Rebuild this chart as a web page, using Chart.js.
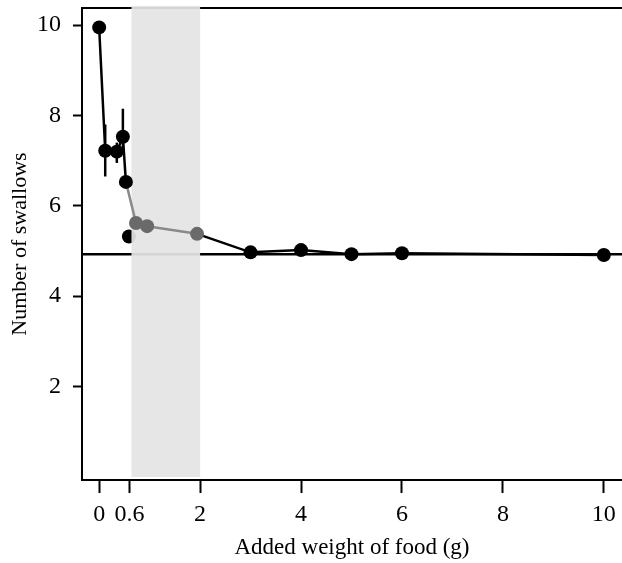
<!DOCTYPE html>
<html>
<head>
<meta charset="utf-8">
<script src="https://cdn.jsdelivr.net/npm/chart.js@4"></script>
<style>
  html, body { margin: 0; padding: 0; background: #fff; overflow: hidden; }
  #wrap { width: 622px; height: 563px; position: relative; }
  canvas { display: block; }
</style>
</head>
<body>
<div id="wrap"><canvas id="swallows"></canvas></div>
<script>
const weights  = [0, 0.12, 0.35, 0.47, 0.53, 0.73, 0.95, 1.94, 3, 4, 5, 6, 10];
const swallows = [9.95, 7.22, 7.2, 7.53, 6.53, 5.62, 5.55, 5.38, 4.97, 5.02, 4.93, 4.95, 4.91];
const errLow   = [null, 6.65, 6.95, 7.2, null, null, null, null, null, null, null, null, null];
const errHigh  = [null, 7.8, 7.4, 8.15, null, null, null, null, null, null, null, null, null];
const strayWeight = [0.59];
const strayCount  = [5.32];
const refLevel = 4.93;
const shadeRange = [0.64, 2.0];
const xTicks = [0, 0.6, 2, 4, 6, 8, 10];
const yTicks = [2, 4, 6, 8, 10];
const xMin = -0.34, xMax = 10.36;
const yMin = -0.07, yMax = 10.38;

const serif = 'Liberation Serif, Times New Roman, serif';
const inShade = x => x > shadeRange[0] && x < shadeRange[1];

const shadePlugin = {
  id: 'shade',
  beforeDatasetDraw(chart, args) {
    if (args.index !== 0) return;
    const { ctx, chartArea } = chart;
    const x = chart.scales.x;
    const x0 = x.getPixelForValue(shadeRange[0]);
    const x1 = x.getPixelForValue(shadeRange[1]);
    ctx.save();
    ctx.fillStyle = 'rgba(228,228,228,0.93)';
    ctx.fillRect(x0, chartArea.top - 2, x1 - x0, chartArea.bottom - chartArea.top - 1);
    ctx.restore();
  }
};

const errorBars = {
  id: 'errorBars',
  afterDatasetsDraw(chart) {
    const { ctx } = chart;
    const x = chart.scales.x, y = chart.scales.y;
    ctx.save();
    ctx.strokeStyle = '#000';
    ctx.lineWidth = 2.5;
    weights.forEach((w, i) => {
      if (errLow[i] == null) return;
      const px = x.getPixelForValue(w);
      ctx.beginPath();
      ctx.moveTo(px, y.getPixelForValue(errLow[i]));
      ctx.lineTo(px, y.getPixelForValue(errHigh[i]));
      ctx.stroke();
    });
    ctx.restore();
  }
};

const noPad = s => { s.paddingTop = 0; s.paddingBottom = 0; s.paddingLeft = 0; s.paddingRight = 0; };

new Chart(document.getElementById('swallows'), {
  type: 'scatter',
  data: {
    datasets: [
      {
        label: 'Number of swallows',
        data: weights.map((w, i) => ({ x: w, y: swallows[i] })),
        showLine: true,
        borderColor: '#000',
        borderWidth: 2.5,
        segment: {
          borderColor: c => inShade(c.p1.parsed.x) ? '#8a8a8a' : '#000'
        },
        pointRadius: 7,
        pointBorderWidth: 0,
        pointBackgroundColor: c => inShade(c.raw.x) ? '#6a6a6a' : '#000',
        clip: false,
        order: 1
      },
      {
        label: 'stray',
        data: strayWeight.map((w, i) => ({ x: w, y: strayCount[i] })),
        pointRadius: 7,
        pointBorderWidth: 0,
        pointBackgroundColor: '#000',
        order: 2
      },
      {
        label: 'reference',
        data: [{ x: xMin, y: refLevel }, { x: xMax, y: refLevel }],
        showLine: true,
        borderColor: '#000',
        borderWidth: 2.5,
        pointRadius: 0,
        order: 3
      }
    ]
  },
  options: {
    responsive: true,
    maintainAspectRatio: false,
    animation: false,
    layout: { autoPadding: false, padding: { top: 8, right: 0, left: 0, bottom: 0 } },
    plugins: { legend: { display: false }, tooltip: { enabled: false } },
    scales: {
      x: {
        type: 'linear',
        min: xMin, max: xMax,
        afterBuildTicks: s => { s.ticks = xTicks.map(v => ({ value: v })); },
        afterFit: s => { s.height = 83; noPad(s); },
        ticks: { color: '#000', font: { family: serif, size: 24 }, padding: 7, maxRotation: 0, autoSkip: false },
        grid: { drawOnChartArea: false, drawTicks: true, tickLength: 13, tickColor: '#000', tickWidth: 2 },
        border: { display: true, color: '#000', width: 2 },
        title: { display: true, text: 'Added weight of food (g)', color: '#000', font: { family: serif, size: 23 }, padding: { top: 0, bottom: 1 } }
      },
      xTop: {
        type: 'linear',
        position: 'top',
        min: xMin, max: xMax,
        afterFit: s => { s.height = 0; noPad(s); },
        ticks: { display: false },
        grid: { display: false, drawTicks: false },
        border: { display: true, color: '#000', width: 2 }
      },
      y: {
        type: 'linear',
        min: yMin, max: yMax,
        afterBuildTicks: s => { s.ticks = yTicks.map(v => ({ value: v })); },
        afterFit: s => { s.width = 82; noPad(s); },
        ticks: { color: '#000', font: { family: serif, size: 24 }, padding: 12 },
        grid: { drawOnChartArea: false, drawTicks: true, tickLength: 9, tickColor: '#000', tickWidth: 2 },
        border: { display: true, color: '#000', width: 2 },
        title: { display: true, text: 'Number of swallows', color: '#000', font: { family: serif, size: 22 }, padding: { top: 7, bottom: 0 } }
      }
    }
  },
  plugins: [shadePlugin, errorBars]
});
</script>
</body>
</html>
